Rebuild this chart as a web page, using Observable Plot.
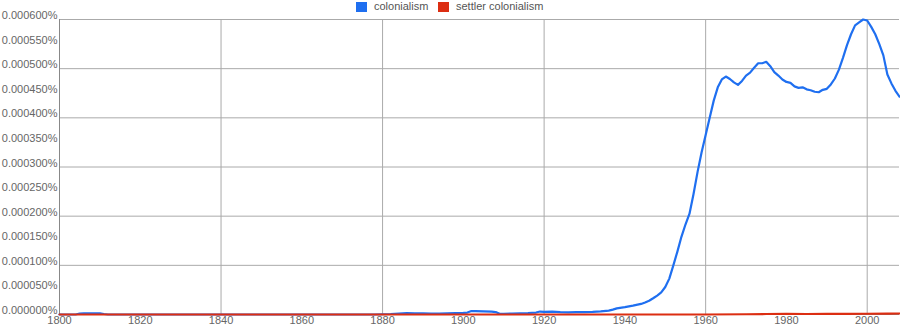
<!DOCTYPE html>
<html>
<head>
<meta charset="utf-8">
<script src="https://cdn.jsdelivr.net/npm/d3@7"></script>
<script src="https://cdn.jsdelivr.net/npm/@observablehq/plot@0.6"></script>
<style>
  html, body { margin: 0; padding: 0; background: #fff; }
  #wrap { position: relative; width: 900px; height: 330px; font-family: "Liberation Sans", Arial, sans-serif; }
  #legend { position: absolute; top: 0; left: 0; width: 900px; height: 14px; font-size: 11px; color: #555; }
  .sw { position: absolute; top: 2px; width: 11px; height: 10px; }
  .lab { position: absolute; top: 0px; line-height: 13px; white-space: nowrap; }
</style>
</head>
<body>
<div id="wrap">
  <div id="chart"></div>
  <div id="legend"></div>
</div>
<script>
const seriesNames = ["colonialism", "settler colonialism"];
const seriesColors = ["#1f6ff0", "#dc2e12"];

const colonialismYears = [
  1800, 1804, 1805, 1806, 1810, 1811, 1812, 1878, 1880, 1882, 1884, 1886, 1888, 1890, 1892, 1894, 1896, 1898,
  1900, 1901, 1902, 1903, 1905, 1907, 1908, 1909, 1910, 1912, 1914, 1916, 1918, 1919, 1920, 1922, 1924, 1926,
  1928, 1930, 1932, 1934, 1936, 1937, 1938, 1940, 1942, 1944, 1945, 1946, 1947, 1948, 1949, 1950, 1951, 1952,
  1953, 1954, 1955, 1956, 1957, 1958, 1959, 1960, 1961, 1962, 1963, 1964, 1965, 1966, 1967, 1968, 1969, 1970,
  1971, 1972, 1973, 1974, 1975, 1976, 1977, 1978, 1979, 1980, 1981, 1982, 1983, 1984, 1985, 1986, 1987, 1988,
  1989, 1990, 1991, 1992, 1993, 1994, 1995, 1996, 1997, 1998, 1999, 2000, 2001, 2002, 2003, 2004, 2005, 2006,
  2007, 2008
];
const colonialismValues = [
  0, 0, 0.0000020, 0.0000025, 0.0000025, 0.0000010, 0, 0, 0.0000005, 0.0000010, 0.0000020, 0.0000030, 0.0000025, 0.0000025, 0.0000020, 0.0000020, 0.0000025, 0.0000030,
  0.0000035, 0.0000040, 0.0000070, 0.0000070, 0.0000065, 0.0000060, 0.0000050, 0.0000015, 0.0000015, 0.0000020, 0.0000025, 0.0000030, 0.0000040, 0.0000060, 0.0000055, 0.0000060, 0.0000050, 0.0000045,
  0.0000050, 0.0000050, 0.0000055, 0.0000065, 0.0000080, 0.0000100, 0.0000125, 0.0000150, 0.0000180, 0.0000215, 0.0000245, 0.0000280, 0.0000330, 0.0000385, 0.0000450, 0.0000560, 0.0000730, 0.0001000,
  0.0001280, 0.0001580, 0.0001830, 0.0002050, 0.0002450, 0.0002900, 0.0003300, 0.0003650, 0.0004000, 0.0004350, 0.0004620, 0.0004780, 0.0004840, 0.0004790, 0.0004720, 0.0004670, 0.0004750, 0.0004860,
  0.0004920, 0.0005020, 0.0005110, 0.0005110, 0.0005140, 0.0005050, 0.0004930, 0.0004860, 0.0004780, 0.0004730, 0.0004710, 0.0004640, 0.0004610, 0.0004620, 0.0004580, 0.0004560, 0.0004530, 0.0004520,
  0.0004570, 0.0004590, 0.0004680, 0.0004800, 0.0004980, 0.0005220, 0.0005480, 0.0005700, 0.0005880, 0.0005940, 0.0006000, 0.0005980, 0.0005850, 0.0005700, 0.0005500, 0.0005270, 0.0004880, 0.0004700,
  0.0004550, 0.0004430
];

const settlerYears = [1800, 1960, 1970, 1975, 1980, 1985, 1990, 1995, 2000, 2005, 2008];
const settlerValues = [0, 0, 0.0000005, 0.0000010, 0.0000015, 0.0000010, 0.0000012, 0.0000013, 0.0000015, 0.0000018, 0.0000020];

const yTicks = [0, 0.00005, 0.0001, 0.00015, 0.0002, 0.00025, 0.0003, 0.00035, 0.0004, 0.00045, 0.0005, 0.00055, 0.0006];
const yGrid = [0.0001, 0.0002, 0.0003, 0.0004, 0.0005, 0.0006];
const xTicks = [1800, 1820, 1840, 1860, 1880, 1900, 1920, 1940, 1960, 1980, 2000];
const xGrid = [1840, 1880, 1920, 1960, 2000];

const colonialism = colonialismYears.map((y, i) => ({year: y, value: colonialismValues[i]}));
const settler = settlerYears.map((y, i) => ({year: y, value: settlerValues[i]}));

const chart = Plot.plot({
  width: 900,
  height: 330,
  marginLeft: 59,
  marginRight: 1,
  marginTop: 19,
  marginBottom: 16,
  style: {fontFamily: "'Liberation Sans', Arial, sans-serif", fontSize: "11px", color: "#666", background: "#fff"},
  x: {domain: [1800, 2008]},
  y: {domain: [0, 0.0006]},
  marks: [
    Plot.ruleY(yGrid, {stroke: "#aaa", strokeWidth: 1}),
    Plot.ruleX(xGrid, {stroke: "#aaa", strokeWidth: 1}),
    Plot.ruleX([1800], {stroke: "#888", strokeWidth: 1}),
    Plot.ruleY([0], {stroke: "#888", strokeWidth: 1}),
    Plot.axisY({ticks: yTicks, tickSize: 0, tickPadding: 2, dy: -4, tickFormat: d => d.toFixed(6) + "%", fill: "#666", label: null}),
    Plot.axisX({ticks: xTicks, tickSize: 0, tickPadding: 2, tickFormat: d => String(d), fill: "#666", label: null}),
    Plot.line(colonialism, {x: "year", y: "value", stroke: seriesColors[0], strokeWidth: 2.2}),
    Plot.line(settler, {x: "year", y: "value", stroke: seriesColors[1], strokeWidth: 2.2})
  ]
});
document.getElementById("chart").appendChild(chart);

const legend = document.getElementById("legend");
const positions = [[356, 374], [438, 456]];
seriesNames.forEach((name, i) => {
  const sw = document.createElement("div");
  sw.className = "sw";
  sw.style.left = positions[i][0] + "px";
  sw.style.background = seriesColors[i];
  legend.appendChild(sw);
  const lab = document.createElement("div");
  lab.className = "lab";
  lab.style.left = positions[i][1] + "px";
  lab.textContent = name;
  legend.appendChild(lab);
});
</script>
</body>
</html>
